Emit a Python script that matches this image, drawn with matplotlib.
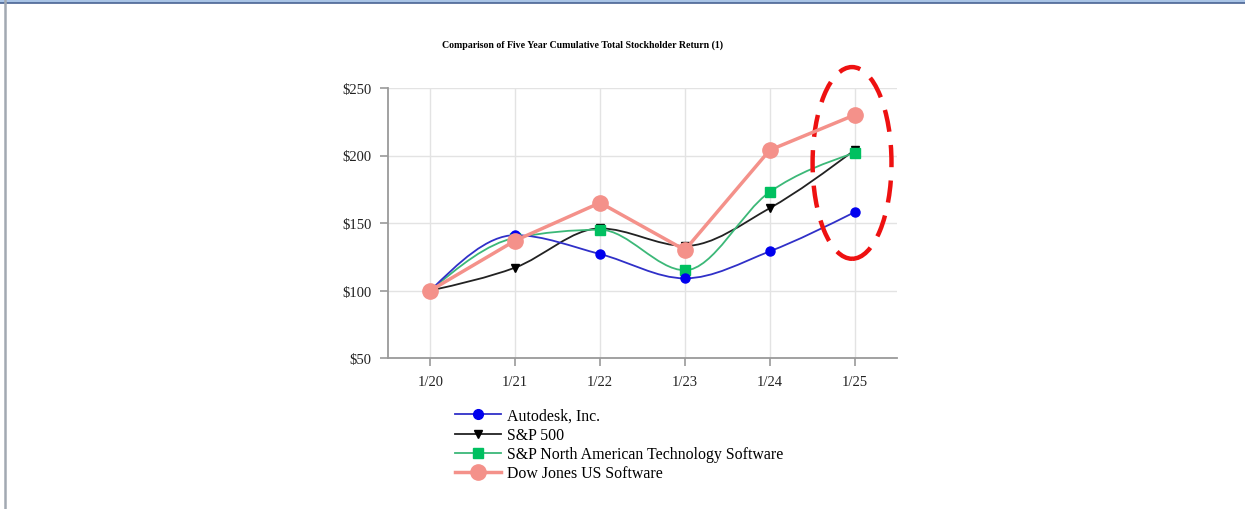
import matplotlib.pyplot as plt
import numpy as np
from matplotlib.path import Path
from matplotlib.patches import PathPatch, Ellipse, Rectangle
from matplotlib.lines import Line2D

plt.rcParams['font.family'] = ['Liberation Serif', 'DejaVu Serif']

years = ['1/20', '1/21', '1/22', '1/23', '1/24', '1/25']
autodesk = [100, 141, 127, 109, 129, 158]
sp500 = [100, 117, 146, 133, 161, 204]
sp_tech = [100, 139, 145, 115, 173, 202]
dow_sw = [100, 137, 165, 130, 204, 230]
y_ticks = [50, 100, 150, 200, 250]
y_labels = ['$50', '$100', '$150', '$200', '$250']


def monotone_path(x, y):
    # monotone cubic (d3 monotoneX style) as bezier segments
    x = np.asarray(x, float)
    y = np.asarray(y, float)
    h = np.diff(x)
    s = np.diff(y) / h
    n = len(x)
    m = np.zeros(n)
    for i in range(1, n - 1):
        if s[i - 1] * s[i] <= 0:
            m[i] = 0
        else:
            p = (s[i - 1] * h[i] + s[i] * h[i - 1]) / (h[i - 1] + h[i])
            m[i] = np.sign(s[i - 1]) * min(abs(s[i - 1]), abs(s[i]), 0.5 * abs(p)) * 2
    m[0] = (3 * s[0] - m[1]) / 2
    m[-1] = (3 * s[-1] - m[-2]) / 2
    verts = [(x[0], y[0])]
    codes = [Path.MOVETO]
    for i in range(n - 1):
        dx = h[i] / 3
        verts += [(x[i] + dx, y[i] + m[i] * dx),
                  (x[i + 1] - dx, y[i + 1] - m[i + 1] * dx),
                  (x[i + 1], y[i + 1])]
        codes += [Path.CURVE4] * 3
    return Path(verts, codes)


fig = plt.figure(figsize=(12.45, 5.10), dpi=100)
fig.patch.set_facecolor('white')

# slide frame
fig.add_artist(Rectangle((0, 1 - 3.5 / 510), 1, 3.5 / 510, transform=fig.transFigure,
                         facecolor='#a9c4e6', edgecolor='none'))
fig.add_artist(Line2D([0, 1], [1 - 4 / 510] * 2, transform=fig.transFigure,
                      color='#4a6494', lw=1.2))
fig.add_artist(Line2D([5.5 / 1245] * 2, [0, 1], transform=fig.transFigure,
                      color='#a2a9b2', lw=1.8))

ax = fig.add_axes([388 / 1245, 1 - 359 / 510, (897 - 388) / 1245, (359 - 89) / 510])
x = np.arange(len(years))

ax.set_xlim(-0.5, 5.5)
ax.set_ylim(50, 250)
ax.set_xticks(x)
ax.set_xticklabels(years)
ax.set_yticks(y_ticks)
ax.set_yticklabels(y_labels)
ax.grid(True, color='#e3e3e3', lw=1)
ax.set_axisbelow(True)
for side in ['top', 'right']:
    ax.spines[side].set_visible(False)
for side in ['left', 'bottom']:
    ax.spines[side].set_color('#9a9a9a')
    ax.spines[side].set_linewidth(1.3)
ax.tick_params(colors='#9a9a9a', length=6, width=1.2, labelcolor='#222222',
               labelsize=10.5, pad=6)

smooth = [
    (sp500, '#222222', '#000000', 'v', 5.5),
    (sp_tech, '#3cb878', '#00c060', 's', 6.5),
    (autodesk, '#3030c8', '#0000ee', 'o', 6.5),
]
for vals, lc, mc, mk, ms in smooth:
    ax.add_patch(PathPatch(monotone_path(x, vals), facecolor='none', edgecolor=lc, lw=1.3))
    ax.plot(x, vals, ls='none', marker=mk, color=mc, ms=ms)

ax.plot(x, dow_sw, color='#f4918a', lw=2.5, marker='o', ms=11)

# highlight around last year
last = [autodesk[-1], sp500[-1], sp_tech[-1], dow_sw[-1]]
ax.add_patch(Ellipse((x[-1] - 0.03, np.mean(last) - 4), 0.93, 142,
                     facecolor='none', edgecolor='#ee1111', lw=3.2,
                     linestyle=(0, (5, 3)), clip_on=False))

fig.text(582 / 1245, 1 - 45 / 510,
         'Comparison of Five Year Cumulative Total Stockholder Return (1)',
         ha='center', va='center', fontsize=7.1, fontweight='bold')

handles = [
    Line2D([], [], color='#3030c8', marker='o', mfc='#0000ee', mec='#0000ee', ms=7, lw=1.3),
    Line2D([], [], color='#222222', marker='v', mfc='#000000', mec='#000000', ms=6, lw=1.3),
    Line2D([], [], color='#3cb878', marker='s', mfc='#00c060', mec='#00c060', ms=7, lw=1.3),
    Line2D([], [], color='#f4918a', marker='o', ms=11, lw=2.5),
]
labels = ['Autodesk, Inc.', 'S&P 500', 'S&P North American Technology Software',
          'Dow Jones US Software']
fig.legend(handles, labels, loc='upper left', bbox_to_anchor=(455 / 1245, 1 - 409 / 510),
           frameon=False, fontsize=11.4, handlelength=2.9, handletextpad=0.4,
           labelspacing=0.2, borderpad=0, borderaxespad=0)

fig.savefig('out.png', dpi=100, facecolor='white')
